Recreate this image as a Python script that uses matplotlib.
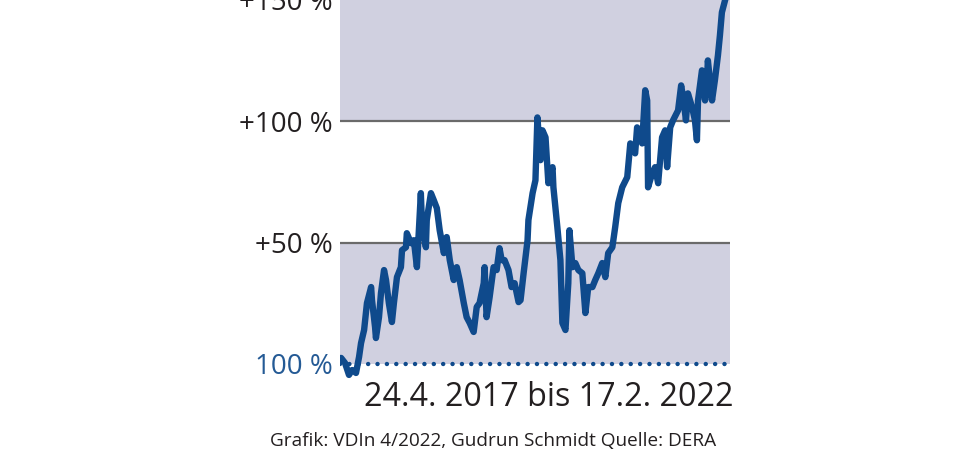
import matplotlib
matplotlib.use("Agg")
import matplotlib.pyplot as plt

plt.rcParams['font.family'] = ['Open Sans', 'DejaVu Sans']

# days since 24.4.2017
days = [0, 18, 36, 50, 68, 82, 91, 105, 118, 137, 141, 155, 159, 173, 182, 196, 205, 218,
        232, 241, 255, 273, 278, 296, 300, 319, 332, 346, 364, 369, 387, 391, 410, 423,
        437, 450, 469, 482, 496, 514, 528, 541, 560, 573, 587, 605, 619, 632, 651, 655,
        664, 678, 696, 710, 723, 733, 746, 764, 778, 792, 810, 819, 833, 851, 855, 874,
        887, 896, 910, 919, 933, 946, 965, 969, 987, 1001, 1010, 1024, 1037, 1042, 1056,
        1069, 1083, 1101, 1115, 1128, 1147, 1160, 1174, 1192, 1206, 1219, 1238, 1251,
        1265, 1283, 1306, 1320, 1342, 1351, 1365, 1374, 1388, 1397, 1401, 1420, 1433,
        1447, 1465, 1479, 1488, 1502, 1515, 1538, 1552, 1561, 1574, 1583, 1602, 1615,
        1624, 1629, 1647, 1661, 1670, 1674, 1693, 1706, 1720, 1729, 1738, 1752, 1760]

# change in percent relative to start (100 %)
change = [2.5, 0.4, -4.5, -2.5, -3.7, 2.9, 8.6, 14.0, 25.1, 31.7, 26.3, 15.2, 10.7, 19.3,
          29.2, 38.7, 34.6, 25.1, 17.3, 25.1, 35.8, 39.9, 46.9, 48.1, 53.9, 49.8, 51.0,
          39.9, 70.4, 58.0, 48.1, 59.3, 70.4, 67.5, 64.2, 55.1, 45.7, 52.3, 42.8, 34.6,
          39.9, 34.6, 25.1, 19.3, 16.9, 13.2, 23.5, 25.1, 33.3, 39.9, 19.3, 27.6, 39.9,
          38.7, 47.7, 42.8, 42.8, 38.7, 31.7, 33.3, 25.5, 26.3, 37.4, 51.0, 59.3, 70.4,
          75.7, 101.6, 84.0, 96.3, 93.4, 74.5, 81.1, 72.8, 56.4, 42.8, 16.9, 14.0, 33.3,
          55.1, 39.9, 41.6, 38.7, 37.4, 21.0, 31.7, 31.7, 34.6, 37.4, 41.6, 35.8, 45.7,
          48.1, 56.4, 66.3, 72.8, 77.0, 90.9, 86.8, 97.5, 93.4, 90.9, 112.8, 108.6, 72.8,
          78.6, 81.1, 74.5, 93.4, 96.3, 81.1, 97.5, 100.4, 104.5, 114.8, 109.9, 100.4,
          111.5, 105.8, 100.4, 92.2, 108.6, 121.0, 108.6, 116.9, 125.1, 108.6, 116.9,
          127.2, 135.4, 144.9, 149.8, 152.3]

ytick_vals = [0, 50, 100, 150]
ytick_labels = ["100 %", "+50 %", "+100 %", "+150 %"]
period_label = "24.4. 2017 bis 17.2. 2022"
source_label = "Grafik: VDIn 4/2022, Gudrun Schmidt Quelle: DERA"

line_blue = "#0f4a8c"
label_blue = "#245a95"
band = "#d0d0e0"
text_dark = "#231f20"

fig = plt.figure(figsize=(9.8, 4.66), dpi=100)
ax = fig.add_axes([340 / 980, 1 - 380 / 466, 390 / 980, 380 / 466])
ax.set_facecolor("white")

ax.axhspan(0, 50, color=band, lw=0, zorder=0)
ax.axhspan(100, 200, color=band, lw=0, zorder=0)
for v in (50, 100):
    ax.axhline(v, color="#6a6a6a", lw=1.6, zorder=1)
ax.axhline(0, color=line_blue, lw=3.2, dashes=(0.01, 2.1), dash_capstyle="round", zorder=1)

ax.plot(days, change, color=line_blue, lw=4.6, solid_joinstyle="round",
        solid_capstyle="round", zorder=3)

ax.set_xlim(-5, 1775)
ax.set_ylim(-6.6, 149.8)
for s in ax.spines.values():
    s.set_visible(False)
ax.set_xticks([])
ax.set_yticks(ytick_vals)
ax.set_yticklabels(ytick_labels)
ax.tick_params(axis="y", length=0, pad=5, labelsize=20, labelcolor=text_dark)
ax.get_yticklabels()[0].set_color(label_blue)
for lab in ax.get_yticklabels():
    lab.set_clip_on(False)

fig.text(549 / 980, 1 - 397 / 466, period_label, ha="center", va="center",
         fontsize=23.2, color=text_dark)
fig.text(493 / 980, 1 - 441 / 466, source_label, ha="center", va="center",
         fontsize=13.7, color=text_dark)

fig.savefig("out.png", dpi=100)
